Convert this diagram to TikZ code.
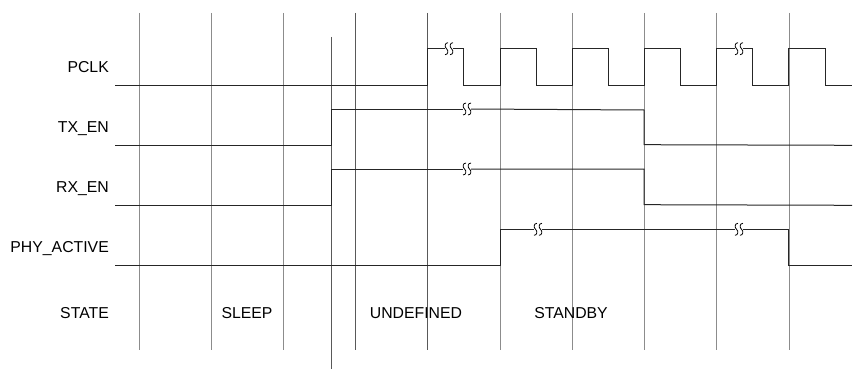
\documentclass[tikz,border=0pt]{standalone}
\usepackage{fontspec}
\setmainfont{Liberation Sans}
\begin{document}
\begin{tikzpicture}[x=1pt,y=-1pt,
  grid/.style={draw=black!45,line width=0.9pt},
  griddark/.style={draw=black!65,line width=0.9pt},
  sig/.style={draw=black!85,line width=1pt},
  lbl/.style={anchor=base east,inner sep=0pt,font=\fontsize{15.8}{19}\selectfont},
  stlbl/.style={anchor=base,inner sep=0pt,font=\fontsize{15.8}{19}\selectfont},
  brk/.pic={
    \draw[black,line width=0.8pt] (-1,-6) .. controls (-4.5,-6) and (-4.5,-1.5) .. (-2.5,0) .. controls (-0.5,1.5) and (-0.5,6) .. (-4,6);
    \draw[black,line width=0.8pt] (4,-6) .. controls (0.5,-6) and (0.5,-1.5) .. (2.5,0) .. controls (4.5,1.5) and (4.5,6) .. (1,6);
  }]
\useasboundingbox (0,0) rectangle (853,369);
% grid lines
\foreach \x in {139,211,283,500,572,644,716,789}
  \draw[grid] (\x,13) -- (\x,350);
\foreach \x in {355,427}
  \draw[griddark] (\x,13) -- (\x,350);
\draw[griddark] (331,37) -- (331,369);
% labels
\node[lbl] (lpclk) at (109,72) {PCLK};
\node[lbl] (ltx) at (109,132) {TX\_EN};
\node[lbl] (lrx) at (109,192) {RX\_EN};
\node[lbl] (lphy) at (109,252) {PHY\_ACTIVE};
\node[lbl] (lst) at (109,318.7) {STATE};
\node[stlbl] (ssleep) at (247,318.7) {SLEEP};
\node[stlbl] (sundef) at (416,318.7) {UNDEFINED};
\node[stlbl] (sstand) at (571,318.7) {STANDBY};
% PCLK
\draw[sig] (115,85) -- (427,85) -- (427,48.7) -- (445,48.7);
\draw[sig] (453,48.7) -- (463,48.7) -- (463,85) -- (500,85) -- (500,48.7) -- (536,48.7) -- (536,85)
  -- (572,85) -- (572,48.7) -- (608,48.7) -- (608,85) -- (644,85) -- (644,48.7) -- (680,48.7)
  -- (680,85) -- (716,85) -- (716,48.7) -- (735,48.7);
\draw[sig] (743,48.7) -- (752,48.7) -- (752,85) -- (788,85) -- (788,48.7) -- (825,48.7) -- (825,85) -- (852,85);
\pic at (449,48.7) {brk};
\pic at (739,48.7) {brk};
% TX_EN
\draw[sig] (115,145) -- (331,145) -- (331,109) -- (463,109);
\draw[sig] (471,109) -- (644,110) -- (644,144.7) -- (852,145.3);
\pic at (467,109) {brk};
% RX_EN
\draw[sig] (115,205) -- (331,205) -- (331,169) -- (463,169);
\draw[sig] (471,169) -- (644,169) -- (644,204.7) -- (852,205.3);
\pic at (467,169) {brk};
% PHY_ACTIVE
\draw[sig] (115,265.3) -- (500,265.3) -- (500,229.3) -- (534,229.3);
\draw[sig] (542,229.3) -- (735,229.3);
\draw[sig] (743,229.3) -- (788,229.3) -- (788,265.3) -- (852,265.3);
\pic at (538,229.3) {brk};
\pic at (739,229.3) {brk};
\end{tikzpicture}
\end{document}
